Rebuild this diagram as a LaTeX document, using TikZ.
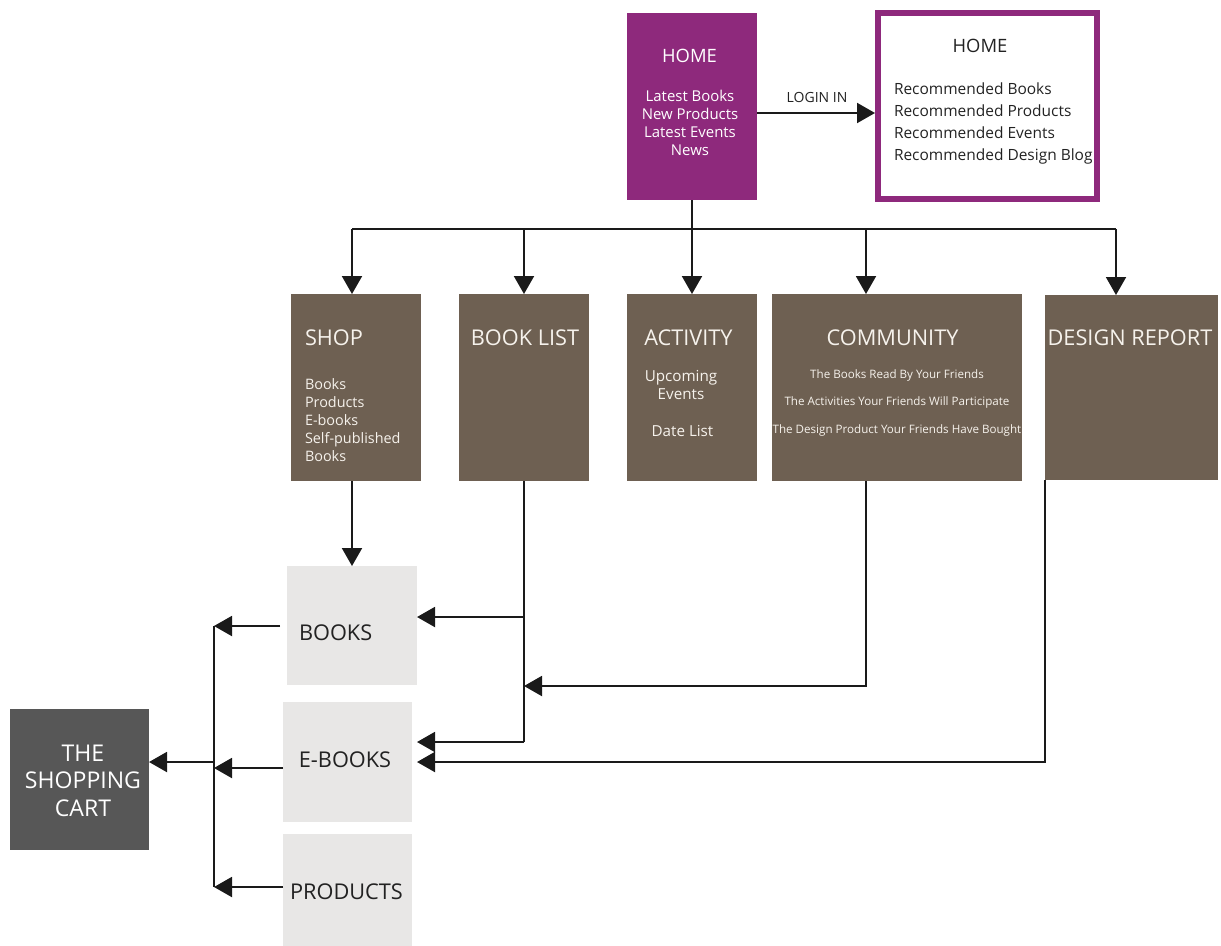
\documentclass[tikz,border=0pt]{standalone}
\usepackage{fontspec}
\setmainfont{Open Sans}
\usetikzlibrary{arrows.meta,fit,calc}

\definecolor{homepurple}{HTML}{8E297C}
\definecolor{sectbrown}{HTML}{6E6052}
\definecolor{itemgray}{HTML}{E8E7E6}
\definecolor{cartgray}{HTML}{575757}
\definecolor{lightink}{HTML}{F6F2EC}
\definecolor{darkink}{HTML}{222222}
\definecolor{wire}{HTML}{1A1A1A}

\begin{document}
\begin{tikzpicture}[x=0.75pt,y=-0.75pt,
  panel/.style={inner sep=0pt, outer sep=0pt, draw=none},
  homebox/.style={panel, fill=homepurple},
  sectbox/.style={panel, fill=sectbrown},
  itembox/.style={panel, fill=itemgray},
  cartbox/.style={panel, fill=cartgray},
  txt/.style={inner sep=0pt, outer sep=0pt},
  ttl/.style={txt, text=lightink, font=\fontsize{16.3}{19}\selectfont},
  itm/.style={txt, text=lightink, font=\fontsize{11}{13.5}\selectfont},
  darkttl/.style={txt, text=darkink, font=\fontsize{16.3}{19}\selectfont},
  link/.style={line width=1.5pt, draw=wire},
  arr/.style={link, -{Triangle[length=13.5pt,width=15pt]}}
]
\useasboundingbox (0,0) rectangle (1221,946);

% ---- top level pages
\node[homebox, fit={(627,13) (757,200)}] (home) {};
\node[panel, draw=homepurple, line width=4.5pt, fit={(878,13) (1097,199)}] (homeIn) {};

\node[txt, text=white, font=\fontsize{13.8}{16}\selectfont] (homeT) at (689.5,56) {HOME};
\node[txt, text=white, anchor=north, align=center, font=\fontsize{11.2}{13.5}\selectfont]
  (homeL) at (690,90.5) {Latest Books\\New Products\\Latest Events\\News};

\node[txt, text=darkink, font=\fontsize{13.8}{16}\selectfont] (homeInT) at (980,46) {HOME};
\node[txt, text=darkink, anchor=north west, align=left, font=\fontsize{11.6}{16.5}\selectfont]
  (homeInL) at (894,82.5) {Recommended Books\\Recommended Products\\Recommended Events\\Recommended Design Blog};

\coordinate (login) at (757,113);
\draw[arr, shorten >=2.25pt] (login) -- (login -| homeIn.west);
\node[txt, text=darkink, font=\fontsize{10.5}{12}\selectfont] (loginLbl) at (817,97) {LOGIN IN};

% ---- section pages
\node[sectbox, fit={(291,294) (421,481)}] (shop) {};
\node[sectbox, fit={(459,294) (589,481)}] (blist) {};
\node[sectbox, fit={(627,294) (757,481)}] (act) {};
\node[sectbox, fit={(772,294) (1022,481)}] (comm) {};
\node[sectbox, fit={(1045,295) (1218,480)}] (design) {};

\node[ttl, anchor=west] (shopT) at (305,338) {SHOP};
\node[itm, anchor=north west, align=left, font=\fontsize{10.8}{13.5}\selectfont]
  (shopL) at (305,379) {Books\\Products\\E-books\\Self-published\\Books};
\node[ttl] (blistT) at (525,338) {BOOK LIST};
\node[ttl] (actT) at (688.5,338) {ACTIVITY};
\node[itm, anchor=north, align=center, font=\fontsize{11.4}{13.5}\selectfont]
  (actL) at (681,370.5) {Upcoming\\Events};
\node[itm, font=\fontsize{11.4}{13.5}\selectfont] (actD) at (682.5,431) {Date List};
\node[ttl] (commT) at (892.5,338) {COMMUNITY};
\node[itm, anchor=north, align=center, font=\fontsize{8.7}{20.6}\selectfont]
  (commL) at (897,369.5) {The Books Read By Your Friends\\The Activities Your Friends Will Participate\\The Design Product Your Friends Have Bought};
\node[ttl] (designT) at (1130,338) {DESIGN REPORT};

% ---- items and cart
\node[itembox, fit={(287,566) (417,685)}] (books) {};
\node[itembox, fit={(283,702) (412,822)}] (ebooks) {};
\node[itembox, fit={(283,834) (412,946)}] (products) {};
\node[cartbox, fit={(10,709) (149,850)}] (cart) {};

\node[darkttl, anchor=west] (booksT) at (299,633) {BOOKS};
\node[darkttl] (ebooksT) at (345,760) {E-BOOKS};
\node[darkttl] (productsT) at (346.5,892) {PRODUCTS};
\node[txt, text=white, align=center, font=\fontsize{17.3}{20.6}\selectfont]
  (cartT) at (83,780.5) {THE\\SHOPPING\\CART};

% ---- distribution bus from the home page
\coordinate (hub) at (692,229);
\coordinate (busL) at (352,229);
\coordinate (busR) at (1116,229);
\coordinate (dComm) at (866,229);
\draw[link] (home.south) -- (hub);
\draw[link] (busL) -- (busR);
\draw[arr] (busL) -- (busL |- shop.north);
\draw[arr] (blist.north |- hub) -- (blist.north);
\draw[arr] (hub) -- (act.north);
\draw[arr] (dComm) -- (dComm |- comm.north);
\draw[arr] (busR) -- (busR |- design.north);

% ---- sections feeding the item pages
\draw[arr] (busL |- shop.south) -- (busL |- books.north);

\coordinate (blJ1) at (524,617);
\coordinate (blJ2) at (524,742);
\draw[link] (blist.south) -- (blJ2);
\draw[arr] (blJ1) -- (blJ1 -| books.east);
\draw[arr] (blJ2) -- ($(blJ2 -| ebooks.east)+(5,0)$);

\coordinate (cmJ) at (524,686);
\draw[arr] (dComm |- comm.south) |- (cmJ);

\coordinate (drJ) at (1045,762);
\draw[arr] (drJ |- design.south) |- ($(drJ -| ebooks.east)+(5,0)$);

% ---- item pages into the shopping cart
\coordinate (lbTop) at (214,626);
\coordinate (lbMid) at (214,768);
\coordinate (lbBot) at (214,887);
\coordinate (cartJ) at (214,762);
\draw[link] (lbTop) -- (lbBot);
\draw[arr] ($(lbTop -| books.west)+(-7,0)$) -- (lbTop);
\draw[arr] (lbMid -| ebooks.west) -- (lbMid);
\draw[arr] (lbBot -| products.west) -- (lbBot);
\draw[arr] (cartJ) -- (cartJ -| cart.east);
\end{tikzpicture}
\end{document}
